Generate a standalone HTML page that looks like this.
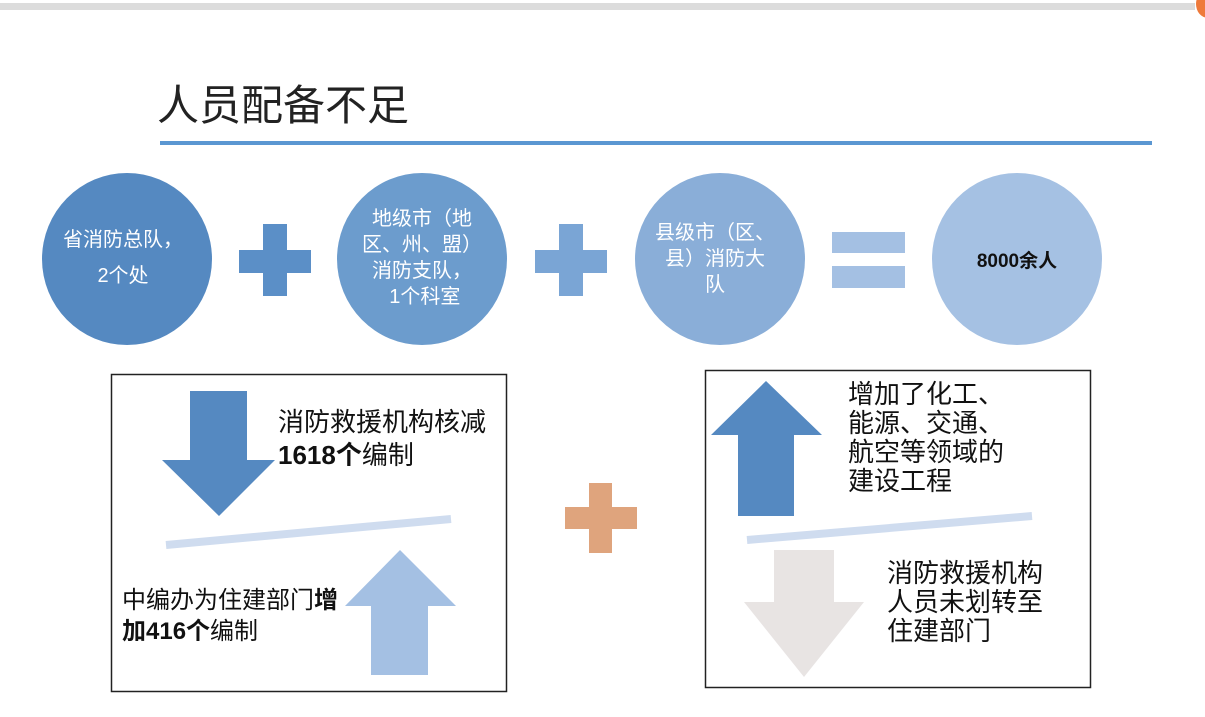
<!DOCTYPE html>
<html><head><meta charset="utf-8"><style>
body{margin:0;width:1205px;height:717px;background:#fff;position:relative;overflow:hidden;font-family:"Liberation Sans","Noto Sans CJK SC",sans-serif}
.t{position:absolute;white-space:nowrap;color:#111}
.c{position:absolute;color:#fff;text-align:center;font-size:20px;line-height:26px}
</style></head><body>
<div style="position:absolute;left:0;top:3px;width:1195px;height:7px;background:#dcdcdc"></div>
<div style="position:absolute;left:1196px;top:-10px;width:24px;height:28px;border-radius:50%;background:#ee7a3b"></div>
<div class="t" style="left:157px;top:72px;font-size:42px;color:#222">人员配备不足</div>
<div style="position:absolute;left:160px;top:141px;width:992px;height:4px;background:#5b97d2"></div>
<svg width="1205" height="717" style="position:absolute;left:0;top:0">
<ellipse cx="127" cy="259" rx="85" ry="86" fill="#5589c1"/>
<ellipse cx="422" cy="259" rx="85" ry="86" fill="#6c9ccd"/>
<ellipse cx="720" cy="259" rx="85" ry="86" fill="#8aaed8"/>
<ellipse cx="1017" cy="259" rx="85" ry="86" fill="#a5c1e3"/>
<g fill="#5b8fc7"><rect x="263" y="224" width="24" height="72"/><rect x="239" y="250" width="72" height="23"/></g>
<g fill="#7aa5d5"><rect x="559" y="224" width="24" height="72"/><rect x="535" y="250" width="72" height="23"/></g>
<g fill="#a4c0e3"><rect x="832" y="232" width="73" height="21"/><rect x="832" y="266" width="73" height="22"/></g>
<rect x="111.5" y="374.5" width="395" height="317" fill="none" stroke="#222" stroke-width="1.5"/>
<rect x="705.5" y="370.5" width="385" height="317" fill="none" stroke="#222" stroke-width="1.5"/>
<polygon points="190,391 247,391 247,460 275,460 219,516 162,460 190,460" fill="#5589c1"/>
<line x1="166" y1="545" x2="451" y2="519" stroke="#cfdcef" stroke-width="8"/>
<polygon points="400,550 456,606 428,606 428,675 371,675 371,606 345,606" fill="#a4c0e3"/>
<g fill="#dfa47d"><rect x="589" y="483" width="23" height="70"/><rect x="565" y="507" width="72" height="22"/></g>
<polygon points="766,381 822,435 794,435 794,516 738,516 738,435 711,435" fill="#5589c1"/>
<line x1="747" y1="540" x2="1032" y2="516" stroke="#cfdcef" stroke-width="8"/>
<polygon points="774,550 834,550 834,602 864,602 804,677 744,602 774,602" fill="#e8e4e3"/>
</svg>
<div class="c" style="left:38px;top:222px;width:170px;line-height:36px">省消防总队，<br>2个处</div>
<div class="c" style="left:332px;top:206px;width:180px">地级市（地<br>区、州、盟）<br>消防支队，<br>&nbsp;1个科室</div>
<div class="c" style="left:625px;top:220px;width:180px">县级市（区、<br>县）消防大<br>队</div>
<div class="t" style="left:932px;top:246px;width:170px;text-align:center;font-size:19px;font-weight:bold">8000余人</div>
<div class="t" style="left:278px;top:406px;font-size:26px;line-height:33px">消防救援机构核减<br><b>1618个</b>编制</div>
<div class="t" style="left:122px;top:585px;font-size:24px;line-height:31px">中编办为住建部门<b>增</b><br><b>加416个</b>编制</div>
<div class="t" style="left:848px;top:380px;font-size:26px;line-height:29px">增加了化工、<br>能源、交通、<br>航空等领域的<br>建设工程</div>
<div class="t" style="left:887px;top:559px;font-size:26px;line-height:29px">消防救援机构<br>人员未划转至<br>住建部门</div>
</body></html>
